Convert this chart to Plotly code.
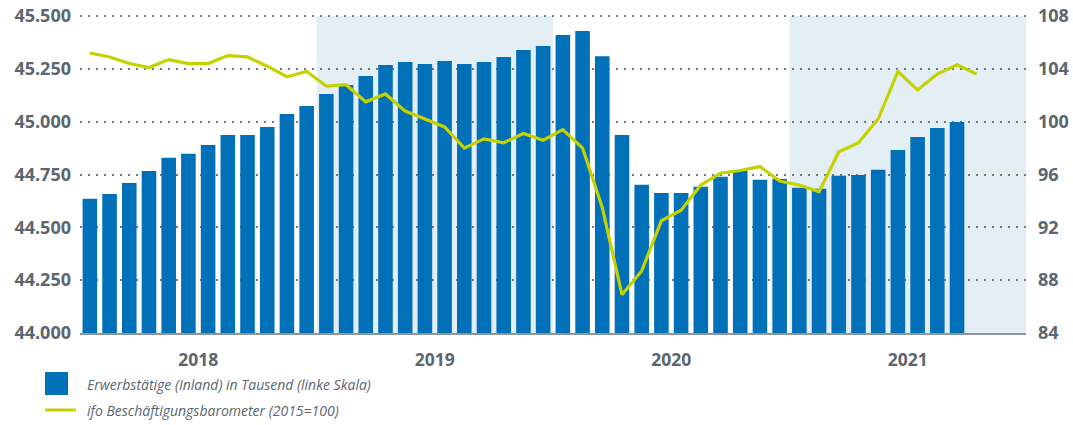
import plotly.graph_objects as go

# ---- data ----
months = [f"{y}-{m:02d}" for y in range(2018, 2022) for m in range(1, 13)]
years = ["2018", "2019", "2020", "2021"]
shaded_years = ["2019", "2021"]

# Erwerbstätige (Inland) in Tausend, Jan 2018 - Sep 2021
employed = [44635, 44658, 44710, 44767, 44829, 44848, 44890, 44937, 44937, 44975,
            45036, 45074, 45131, 45173, 45216, 45268, 45282, 45273, 45287, 45273,
            45282, 45306, 45339, 45358, 45410, 45429, 45310, 44937, 44701, 44663,
            44663, 44692, 44739, 44767, 44725, 44729, 44687, 44682, 44744, 44748,
            44772, 44866, 44927, 44970, 44998]
# ifo Beschäftigungsbarometer (2015=100), Jan 2018 - Oct 2021
ifo = [105.2, 104.9, 104.4, 104.1, 104.7, 104.4, 104.4, 105.0, 104.9, 104.2,
       103.4, 103.8, 102.7, 102.8, 101.5, 102.1, 100.8, 100.2, 99.6, 98.0,
       98.7, 98.4, 99.1, 98.6, 99.4, 98.0, 93.5, 86.9, 88.7, 92.5,
       93.3, 95.2, 96.1, 96.3, 96.6, 95.5, 95.2, 94.7, 97.7, 98.4,
       100.2, 103.8, 102.4, 103.6, 104.3, 103.6]

left_ticks = [44000, 45500, 250]
right_ticks = [84, 108, 4]

legend_labels = ["Erwerbstätige (Inland) in Tausend (linke Skala)",
                 "ifo Beschäftigungsbarometer (2015=100)"]

# ---- style ----
BLUE = "#0071b9"
LIME = "#c5d200"
SHADE = "#e4eef5"
GREY = "#5b666e"
GRID = "#6f7980"
FONT = "Open Sans"

W, H = 1073, 425
# tick area in page pixels (gridline 45.500 at y=16, baseline at y=333)
PL, PR, TT, PB = 80, 1026, 16, 333
TOPPAD = 2  # extra pixels above the top gridline so it is drawn
PT = TT - TOPPAD
ML, MR, MT, MB = PL, W - PR, PT, H - PB


def px_x(p):
    return (p - PL) / (PR - PL)


def px_y(p):
    return (PB - p) / (PB - PT)


def padded(lo, hi):
    return [lo, hi + (hi - lo) * TOPPAD / (PB - TT)]


x_emp = [months.index(m) for m in months[:len(employed)]]
x_ifo = [months.index(m) for m in months[:len(ifo)]]

fig = go.Figure()
fig.add_trace(go.Bar(x=x_emp, y=employed, marker=dict(color=BLUE, line=dict(width=0)),
                     name=legend_labels[0], yaxis="y", hoverinfo="skip"))
fig.add_trace(go.Scatter(x=x_ifo, y=ifo, mode="lines", line=dict(color=LIME, width=3.2),
                         name=legend_labels[1], yaxis="y2", hoverinfo="skip"))

shapes = []
for yr in shaded_years:
    i0 = months.index(f"{yr}-01")
    i1 = months.index(f"{yr}-12")
    shapes.append(dict(type="rect", xref="x", yref="paper", x0=i0 - 0.5, x1=i1 + 0.5,
                       y0=0, y1=px_y(TT), fillcolor=SHADE, line=dict(width=0), layer="below"))

# manual legend
shapes.append(dict(type="rect", xref="paper", yref="paper",
                   x0=px_x(45), x1=px_x(68), y0=px_y(395), y1=px_y(372),
                   fillcolor=BLUE, line=dict(width=0)))
shapes.append(dict(type="line", xref="paper", yref="paper",
                   x0=px_x(45), x1=px_x(76), y0=px_y(410), y1=px_y(410),
                   line=dict(color=LIME, width=3)))
annotations = [
    dict(text=f"<i>{legend_labels[0]}</i>", xref="paper", yref="paper", x=px_x(85), y=px_y(384),
         xanchor="left", yanchor="middle", showarrow=False,
         font=dict(family=FONT, size=14, color=GREY)),
    dict(text=f"<i>{legend_labels[1]}</i>", xref="paper", yref="paper", x=px_x(85), y=px_y(410),
         xanchor="left", yanchor="middle", showarrow=False,
         font=dict(family=FONT, size=14, color=GREY)),
]

year_pos = [months.index(f"{y}-06") + 0.5 for y in years]

fig.update_layout(
    width=W, height=H,
    margin=dict(l=ML, r=MR, t=MT, b=MB, pad=0, autoexpand=False),
    paper_bgcolor="white", plot_bgcolor="rgba(0,0,0,0)",
    separators=",.",
    showlegend=False,
    bargap=0.26,
    shapes=shapes,
    annotations=annotations,
    font=dict(family=FONT, color=GREY),
    xaxis=dict(range=[-0.5, len(months) - 0.5], tickmode="array", tickvals=year_pos,
               ticktext=years, showgrid=False, zeroline=False, showline=True,
               linecolor="#8c969c", linewidth=2, ticks="", ticklabelstandoff=10,
               automargin=False,
               tickfont=dict(family=FONT, size=17.5, color=GREY, weight="bold")),
    yaxis=dict(range=padded(left_ticks[0], left_ticks[1]), tick0=left_ticks[0],
               dtick=left_ticks[2], tickformat=",d", showgrid=True,
               gridcolor=GRID, gridwidth=1.5, griddash="2px,6px", zeroline=False,
               ticks="", ticklabelstandoff=8, automargin=False, ticklabeloverflow="allow",
               tickfont=dict(family=FONT, size=18, color=GREY, weight="bold")),
    yaxis2=dict(range=padded(right_ticks[0], right_ticks[1]), tick0=right_ticks[0],
                dtick=right_ticks[2], overlaying="y", side="right", showgrid=False,
                zeroline=False, ticks="", ticklabelstandoff=11, automargin=False,
                ticklabeloverflow="allow",
                tickfont=dict(family=FONT, size=18, color=GREY, weight="bold")),
)

# remove the browser's default page margin so the figure sits at the window's corner
fig.write_html("out.html", config={"displayModeBar": False},
               post_script="document.body.style.margin='0';")
